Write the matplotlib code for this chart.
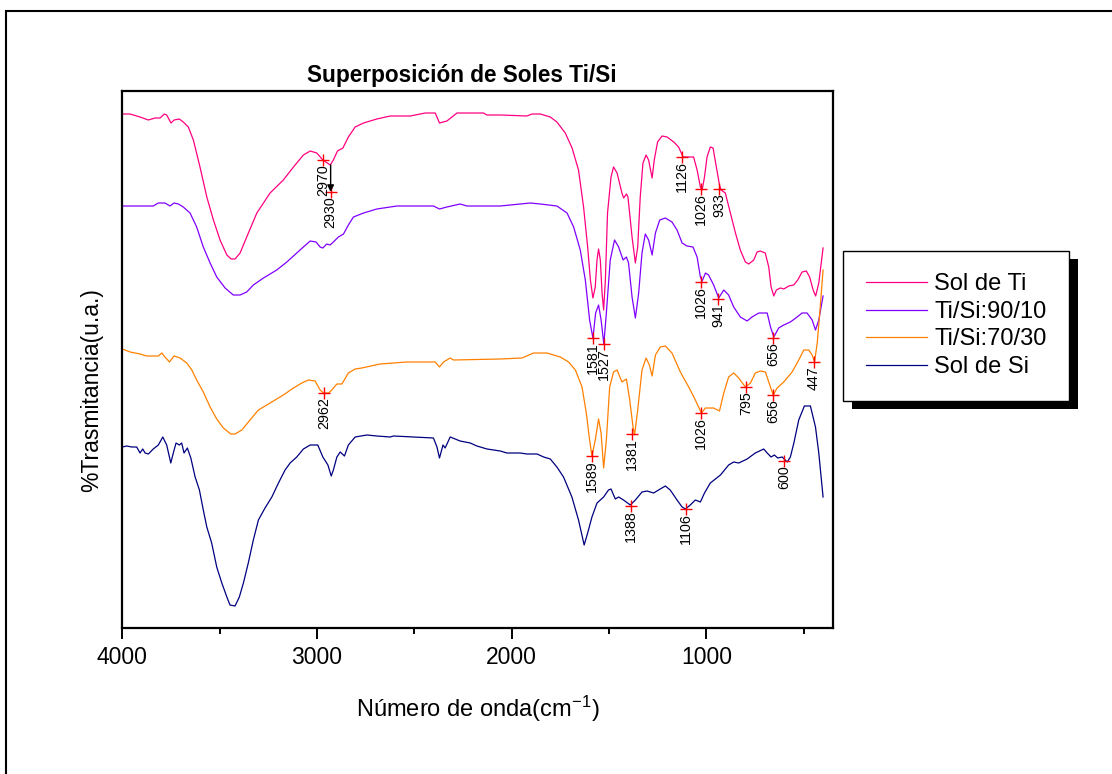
import matplotlib
matplotlib.use("Agg")
import matplotlib.pyplot as plt
from matplotlib.patches import Rectangle

plt.rcParams['font.family'] = ['Liberation Sans', 'DejaVu Sans']
plt.rcParams['mathtext.fontset'] = 'custom'
plt.rcParams['mathtext.rm'] = 'Liberation Sans'
plt.rcParams['mathtext.it'] = 'Liberation Sans'

### Spectra (wavenumber in cm-1, transmittance in arbitrary units)
ti_wn = [4000, 3960, 3909, 3866, 3832, 3806, 3784, 3772, 3750, 3734, 3707, 3687, 3661, 3635, 3601, 3566,
         3532, 3498, 3463, 3441, 3421, 3395, 3361, 3309, 3241, 3173, 3121, 3070, 3035, 3001, 2970, 2932,
         2916, 2895, 2867, 2839, 2804, 2761, 2693, 2624, 2521, 2444, 2393, 2371, 2333, 2281, 2145, 2127,
         2059, 1922, 1896, 1853, 1802, 1768, 1725, 1690, 1657, 1631, 1610, 1596, 1583, 1571, 1562, 1554,
         1545, 1536, 1528, 1519, 1508, 1490, 1477, 1459, 1434, 1425, 1411, 1403, 1382, 1365, 1353, 1340,
         1326, 1310, 1297, 1279, 1268, 1251, 1228, 1202, 1168, 1143, 1120, 1091, 1066, 1048, 1031, 1022,
         1010, 997, 980, 966, 949, 933, 925, 903, 877, 851, 826, 800, 783, 757, 740, 724, 698, 680, 668,
         654, 641, 620, 603, 577, 552, 531, 509, 487, 470, 452, 439, 423, 401]
ti_t = [514, 514, 511, 508, 510, 510, 514, 513, 505, 508, 509, 506, 501, 488, 461, 431,
        408, 388, 373, 369, 369, 375, 391, 415, 435, 448, 461, 473, 477, 475, 468, 463,
        468, 477, 480, 491, 501, 505, 509, 512, 512, 515, 515, 505, 507, 515, 515, 513,
        513, 512, 514, 514, 511, 506, 495, 480, 458, 421, 381, 348, 330, 341, 368, 379,
        368, 335, 318, 348, 415, 451, 461, 455, 435, 430, 434, 431, 391, 365, 381, 431,
        465, 473, 468, 450, 468, 486, 492, 491, 486, 481, 471, 471, 471, 458, 441, 438,
        451, 471, 481, 480, 461, 443, 438, 435, 415, 395, 378, 366, 364, 368, 376, 377, 375, 361, 341,
        332, 338, 340, 339, 342, 343, 348, 356, 357, 351, 338, 332, 345, 380]

ts90_wn = [4000, 3841, 3815, 3781, 3755, 3734, 3712, 3687, 3652, 3618, 3584, 3549, 3515, 3472, 3430, 3395,
           3361, 3327, 3275, 3207, 3155, 3104, 3070, 3035, 3005, 2984, 2970, 2950, 2933, 2916, 2890, 2864,
           2839, 2813, 2761, 2693, 2590, 2402, 2371, 2333, 2265, 2230, 2059, 1905, 1853, 1768, 1716, 1682,
           1648, 1622, 1600, 1583, 1569, 1554, 1541, 1527, 1514, 1494, 1472, 1451, 1428, 1411, 1400, 1382,
           1365, 1348, 1331, 1314, 1297, 1279, 1262, 1240, 1211, 1177, 1151, 1125, 1100, 1069, 1048, 1031,
           1022, 1005, 989, 963, 937, 911, 886, 860, 826, 791, 766, 731, 688, 671, 654, 629, 603, 569, 534,
           509, 483, 457, 440, 423, 401]
ts90_t = [422, 422, 425, 425, 422, 425, 424, 421, 415, 401, 381, 365, 351, 340, 333, 333,
          336, 343, 350, 358, 366, 375, 381, 387, 386, 381, 380, 384, 383, 386, 391, 394,
          403, 411, 415, 419, 422, 422, 419, 421, 424, 422, 422, 425, 424, 422, 415, 401,
          378, 348, 308, 290, 315, 323, 308, 284, 315, 368, 388, 381, 368, 371, 365, 331,
          310, 335, 375, 394, 388, 373, 395, 408, 410, 406, 398, 385, 382, 381, 371, 351,
          347, 355, 353, 343, 330, 338, 333, 321, 311, 307, 311, 315, 315, 301, 291, 300, 303, 306, 311,
          315, 315, 308, 298, 308, 332]

ts70_wn = [4000, 3960, 3909, 3875, 3815, 3797, 3781, 3758, 3734, 3703, 3669, 3643, 3618, 3584, 3549, 3515,
           3481, 3443, 3421, 3386, 3344, 3301, 3241, 3173, 3121, 3078, 3044, 3010, 2984, 2967, 2941, 2924,
           2898, 2872, 2839, 2804, 2770, 2676, 2538, 2393, 2371, 2350, 2316, 2299, 2059, 1947, 1888, 1819,
           1751, 1708, 1673, 1639, 1617, 1600, 1588, 1571, 1554, 1541, 1528, 1514, 1497, 1477, 1459, 1434,
           1411, 1394, 1377, 1369, 1353, 1331, 1310, 1293, 1279, 1262, 1237, 1211, 1177, 1134, 1091, 1057,
           1026, 1005, 963, 933, 911, 886, 860, 834, 800, 774, 749, 723, 697, 680, 657, 637, 603, 560, 526,
           500, 475, 457, 445, 431, 418, 401]
ts70_t = [279, 276, 274, 272, 272, 275, 271, 266, 272, 270, 265, 258, 248, 236, 221, 209,
          200, 194, 194, 198, 208, 218, 225, 233, 240, 245, 248, 247, 238, 235, 235, 238,
          244, 244, 255, 259, 260, 264, 266, 266, 261, 266, 270, 268, 269, 270, 275, 275,
          271, 266, 258, 241, 215, 188, 172, 188, 209, 195, 160, 188, 241, 256, 258, 246,
          249, 228, 201, 193, 218, 258, 270, 263, 252, 273, 281, 282, 275, 256, 241, 228,
          215, 220, 220, 217, 235, 251, 255, 250, 241, 245, 255, 257, 256, 246, 233, 240, 246, 256, 268,
          278, 278, 273, 266, 285, 315, 358]

si_wn = [4000, 3977, 3952, 3926, 3909, 3895, 3883, 3866, 3841, 3815, 3792, 3772, 3751, 3738, 3724, 3707,
         3695, 3683, 3666, 3648, 3626, 3604, 3584, 3566, 3541, 3515, 3489, 3463, 3447, 3421, 3399, 3378,
         3353, 3327, 3301, 3267, 3232, 3198, 3164, 3138, 3104, 3070, 3035, 2996, 2970, 2944, 2927, 2916,
         2898, 2881, 2859, 2839, 2804, 2744, 2693, 2624, 2607, 2402, 2384, 2371, 2353, 2342, 2316, 2265,
         2213, 2179, 2127, 2059, 2025, 1991, 1956, 1922, 1870, 1836, 1802, 1768, 1734, 1691, 1657, 1628,
         1610, 1588, 1562, 1528, 1503, 1490, 1468, 1451, 1426, 1391, 1365, 1331, 1305, 1271, 1246, 1211,
         1186, 1151, 1125, 1108, 1083, 1057, 1031, 1010, 980, 928, 886, 860, 834, 791, 749, 706, 688, 668,
         651, 634, 611, 585, 569, 551, 526, 497, 466, 440, 423, 411, 401]
si_t = [181, 182, 181, 181, 175, 179, 175, 174, 179, 183, 191, 183, 165, 175, 185, 183,
        185, 175, 180, 170, 151, 138, 118, 101, 85, 61, 45, 31, 23, 22, 31, 45,
        65, 88, 108, 120, 131, 145, 158, 165, 171, 179, 183, 183, 171, 163, 152, 158,
        171, 176, 172, 183, 191, 193, 192, 191, 192, 190, 181, 170, 183, 180, 191, 187,
        185, 182, 179, 177, 175, 175, 175, 174, 174, 171, 169, 161, 151, 131, 108, 83,
        95, 111, 125, 131, 138, 139, 129, 131, 128, 123, 128, 136, 137, 135, 138, 142,
        138, 128, 121, 119, 123, 128, 126, 135, 145, 153, 163, 166, 165, 169, 175, 179, 175, 171,
        173, 170, 171, 166, 171, 185, 208, 222, 222, 201, 175, 151, 131]

### Picked peaks (wavenumber label, transmittance at the marker)
ti_peaks = [2970, 2930, 1126, 1026, 933]
ti_peak_t = [468, 436, 471, 439, 439]
ts90_peaks = [1581, 1527, 1026, 941, 656]
ts90_peak_t = [290, 284, 346, 329, 290]
ts70_peaks = [2962, 1589, 1381, 1026, 795, 656, 447]
ts70_peak_t = [235, 172, 194, 215, 241, 233, 266]
si_peaks = [1388, 1106, 600]
si_peak_t = [122, 119, 167]

labels = ['Sol de Ti', 'Ti/Si:90/10', 'Ti/Si:70/30', 'Sol de Si']
colors = ['#FF0080', '#8000FF', '#FF8000', '#000080']

W, H = 1112, 774
fig = plt.figure(figsize=(W / 100, H / 100), dpi=100)
ax = fig.add_axes([122.3 / W, 1 - 628 / H, (833 - 122.3) / W, (628 - 91) / H])

series = [(ti_wn, ti_t), (ts90_wn, ts90_t), (ts70_wn, ts70_t), (si_wn, si_t)]
handles = []
for (x, y), c, lab in zip(series, colors, labels):
    ln, = ax.plot(x, y, color=c, lw=0.9, label=lab)
    handles.append(ln)

peaks = [(ti_peaks, ti_peak_t), (ts90_peaks, ts90_peak_t), (ts70_peaks, ts70_peak_t), (si_peaks, si_peak_t)]
for pk, pt in peaks:
    ax.plot(pk, pt, '+', color='red', ms=9, mew=1.0)
    for w, t in zip(pk, pt):
        ax.annotate(str(w), (w, t), xytext=(0, -3), textcoords='offset points',
                    rotation=90, ha='center', va='top', fontsize=10.3)

# arrow from the 2930 dip to its marker
ax.annotate('', xy=(2930, 436), xytext=(2930, 463),
            arrowprops=dict(arrowstyle='-|>', color='black', lw=1.0, mutation_scale=10,
                            shrinkA=0, shrinkB=0))

ax.set_xlim(4000, 350)
ax.set_ylim(0, 537)
ax.set_xticks([4000, 3000, 2000, 1000])
ax.set_xticks([3500, 2500, 1500, 500], minor=True)
ax.set_yticks([])
ax.tick_params(axis='x', which='major', direction='out', length=8, width=1.4, labelsize=16.5, pad=5)
ax.tick_params(axis='x', which='minor', direction='out', length=4, width=1.4)
for s in ax.spines.values():
    s.set_linewidth(1.6)

fig.text(461.5 / W, 1 - 82 / H, 'Superposición de Soles Ti/Si', ha='center', va='baseline',
         fontsize=16.3, weight='bold')
fig.text(477.5 / W, 1 - 717 / H, 'Número de onda(cm$^{-1}$)', ha='center', va='baseline', fontsize=17)
fig.text(92 / W, 1 - 390 / H, '%Trasmitancia(u.a.)', rotation=90, ha='center', va='center', fontsize=16.5)

leg = fig.legend(handles, labels, loc='upper left', bbox_to_anchor=(843.3 / W, 1 - 250.7 / H),
                 bbox_transform=fig.transFigure, frameon=True, fancybox=False, edgecolor='black',
                 framealpha=1, fontsize=17, handlelength=2.6, handletextpad=0.3, labelspacing=0.24,
                 borderpad=0.95, borderaxespad=0)
leg.get_frame().set_linewidth(1.0)
leg.set_zorder(5)

fig.canvas.draw()
bb = leg.get_window_extent().transformed(fig.transFigure.inverted())
shadow = Rectangle((bb.x0 + 9 / W, bb.y0 - 8 / H), bb.width, bb.height, transform=fig.transFigure,
                   facecolor='black', edgecolor='none', zorder=4)
fig.add_artist(shadow)

# outer frame of the page
fig.add_artist(Rectangle((6 / W, -0.5), 2, 1.5 - 11 / H, transform=fig.transFigure,
                         fill=False, edgecolor='black', lw=1.5, zorder=1))

fig.savefig('out.png', dpi=100)
